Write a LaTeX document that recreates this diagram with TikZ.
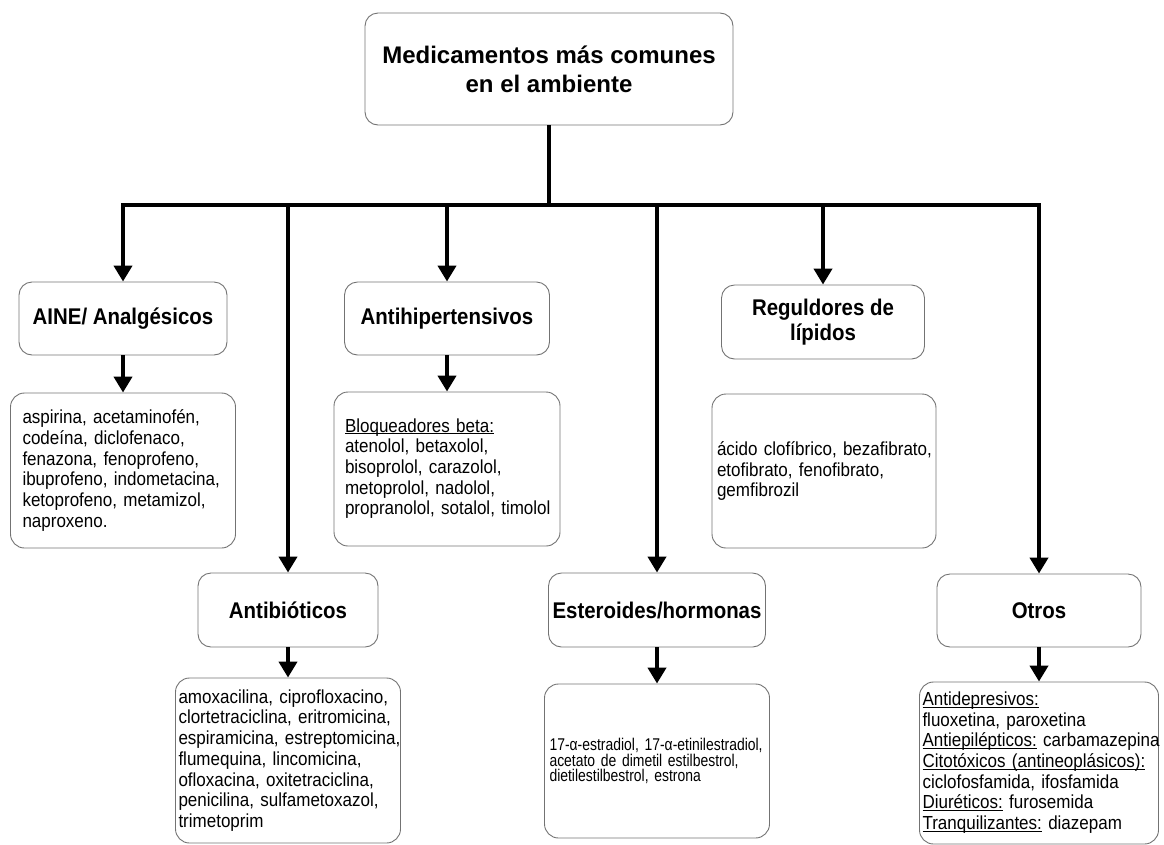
\documentclass[tikz,border=0pt]{standalone}
\usepackage{fontspec}
\setmainfont{Liberation Sans}
\newfontfamily\narrowfont{Liberation Sans}[FakeStretch=0.9]
\newfontfamily\tightfont{Liberation Sans}[FakeStretch=0.82]
\hyphenpenalty=10000
\hbadness=10000
\hfuzz=50pt
\newcommand\undl[1]{\underline{\smash{#1}}\vphantom{A}}
\usetikzlibrary{arrows.meta,positioning,calc}
\tikzset{catbox/.style={draw=black!55, line width=0.9pt, rounded corners=13pt,
  align=center, inner sep=0pt, font=\narrowfont\bfseries\fontsize{22.7}{25}\selectfont},
drugbox/.style={draw=black!55, line width=0.9pt, rounded corners=14pt,
  align=left, inner ysep=0pt, font=\narrowfont\fontsize{18.9}{20.7}\selectfont},
bus/.style={line width=4pt},
flow/.style={line width=4pt, -{Triangle[width=18pt,length=16pt]}}}

\begin{document}
\begin{tikzpicture}[x=1pt,y=-1pt]
    \useasboundingbox (0,0) rectangle (1164,844);

    \node[catbox, minimum width=368pt, minimum height=112pt, font=\bfseries\fontsize{24}{29}\selectfont] (top) at (549, 69) {Medicamentos más comunes\\en el ambiente};

    % first row
    \node[catbox, minimum width=208pt, minimum height=73pt] (aine) at (123, 318.5) {AINE/ Analgésicos};
    \node[catbox, minimum width=205pt, minimum height=73pt] (antihip) at (447, 318.5) {Antihipertensivos};
    \node[catbox, minimum width=203pt, minimum height=74pt] (lip) at (823, 322) {Reguldores de\\lípidos};

    \node[drugbox, text width=201pt, inner xsep=12pt, minimum height=155pt] (aineL) at (123, 470.5)
        {aspirina, acetaminofén,\\codeína, diclofenaco,\\fenazona, fenoprofeno,\\ibuprofeno,~indometacina,\\ketoprofeno, metamizol,\\naproxeno.};
    \node[drugbox, text width=204pt, inner xsep=11pt, minimum height=154pt] (antihipL) at (447, 469)
        {\undl{Bloqueadores beta:}\\atenolol, betaxolol,\\bisoprolol, carazolol,\\metoprolol, nadolol,\\propranolol,~sotalol,~timolol};
    \node[drugbox, text width=214pt, inner xsep=5pt, minimum height=154pt] (lipL) at (824, 471)
        {ácido~clofíbrico,~bezafibrato,\\etofibrato, fenofibrato,\\gemfibrozil};

    % second row
    \node[catbox, minimum width=180pt, minimum height=74pt] (antib) at (288, 610) {Antibióticos};
    \node[catbox, minimum width=217pt, minimum height=74pt] (ester) at (657, 610) {Esteroides/hormonas};
    \node[catbox, minimum width=204pt, minimum height=73pt] (otros) at (1039, 610.5) {Otros};

    \node[drugbox, text width=219pt, inner xsep=3pt, minimum height=165pt] (antibL) at (288, 760.5)
        {amoxacilina,~ciprofloxacino,\\clortetraciclina,~eritromicina,\\espiramicina,~estreptomicina,\\flumequina, lincomicina,\\ofloxacina,~oxitetraciclina,\\penicilina,~sulfametoxazol,\\trimetoprim};
    \node[drugbox, text width=215pt, inner xsep=5pt, minimum height=154pt, font=\tightfont\fontsize{17}{15.5}\selectfont] (esterL) at (657, 761)
        {17-α-estradiol,~17-α-etinilestradiol,\\acetato~de~dimetil~estilbestrol,\\dietilestilbestrol,~estrona};
    \node[drugbox, text width=233pt, inner xsep=3pt, minimum height=162pt] (otrosL) at (1039, 763)
        {\undl{Antidepresivos:}\\fluoxetina, paroxetina\\\undl{Antiepilépticos:}~carbamazepina\\\undl{Citotóxicos~(antineoplásicos):}\\ciclofosfamida,~ifosfamida\\\undl{Diuréticos:}~furosemida\\\undl{Tranquilizantes:}~diazepam};

    % connectors
    \coordinate (hub) at (549, 205);
    \draw[bus] (top.south) -- (hub);
    \draw[flow] (hub) -| (aine);
    \draw[flow] (hub) -| (antib);
    \draw[flow] (hub) -| (antihip);
    \draw[flow] (hub) -| (ester);
    \draw[flow] (hub) -| (lip);
    \draw[flow] (hub) -| (otros);

    \draw[flow] (aine.south) -- (aineL.north);
    \draw[flow] (antihip.south) -- (antihipL.north);
    \draw[flow] (antib.south) -- (antibL.north);
    \draw[flow] (ester.south) -- (esterL.north);
    \draw[flow] (otros.south) -- (otrosL.north);
\end{tikzpicture}
\end{document}
